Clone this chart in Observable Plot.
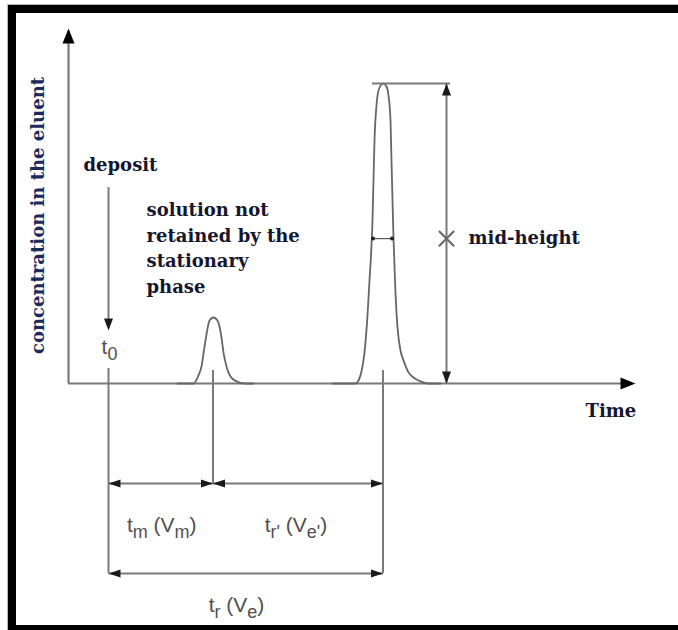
<!DOCTYPE html>
<html><head><meta charset="utf-8">
<script src="https://cdn.jsdelivr.net/npm/d3@7"></script>
<script src="https://cdn.jsdelivr.net/npm/@observablehq/plot@0.6"></script>
<style>
html,body{margin:0;padding:0;background:#fff;overflow:hidden;}
#chart{position:relative;width:678px;height:630px;overflow:hidden}
#chart svg{display:block}
#chart::after{content:"";position:absolute;left:8px;top:5px;right:-30px;bottom:-3px;border:8px solid #000;border-right:none;pointer-events:none;box-shadow:0 0 0 1px #bbb;}
</style>
</head><body><div id="chart"></div>
<script>
// ---- data (time in arbitrary units, concentration in % of main peak) ----
const smallPeakT = [6.9, 8.5, 9.0, 9.3, 9.5, 9.7, 9.9, 10.1, 10.5, 10.9, 11.1, 11.3, 11.5, 11.8, 12.2, 12.8, 13.6, 14.5];
const smallPeakC = [0, 0, 2.7, 5.7, 10, 14.3, 18.3, 21, 22, 21, 19, 15.3, 10.3, 5.7, 2.3, 0.7, 0, 0];
const bigPeakT = [22.4, 24.7, 25.0, 25.3, 25.6, 25.9, 26.1, 26.3, 26.4, 26.5, 26.6, 26.8, 27.0, 27.3, 27.5, 27.8, 28.0, 28.2, 28.3, 28.4, 28.5, 28.7, 28.9, 29.2, 29.5, 30.0, 30.5, 31.2, 32.0, 33.2];
const bigPeakC = [0, 0, 1, 4, 10.3, 22.7, 34.3, 46, 54.3, 67.7, 81, 92.7, 97.7, 99.7, 100, 99, 96, 87.7, 74.3, 61, 48.3, 30, 18.7, 11, 7.7, 3.7, 2, 0.7, 0, 0];
const eventNames = ["t0", "tm", "tr"];
const eventTimes = [0, 10.45, 27.45];
const peakMax = 100;
const midLevel = 48.3;
const halfWidthEnds = [26.45, 28.35];
const intervalLabels = ["t_{m} (V_{m})", "t_{r'} (V_{e'})", "t_{r} (V_{e})"];
const startLabel = "t_{0}";
const noteLabels = ["deposit", "solution not\nretained by the\nstationary\nphase", "mid-height"];
const xTitle = "Time";
const yTitle = "concentration in the eluent";

// ---- layout constants ----
const axisT0 = -4, axisTEnd = 52.7, axisCEnd = 118.3;
const row1 = -33.3, row2 = -63.3;
const measureT = 33.8;
const G = "#7a7a7a", HEAD = "#1a1a1a", INK = "#16162e";
const serif = "DejaVu Serif", sans = "Liberation Sans, Arial, sans-serif";

const [t0, tm, tr] = eventTimes;
function head(len, wid) {
  return {draw(ctx) { ctx.moveTo(0, 0); ctx.lineTo(-wid / 2, len); ctx.lineTo(wid / 2, len); ctx.closePath(); }};
}
const bigHead = head(15, 12), smallHead = head(12, 8), midHead = head(12, 9);
const toRows = (T, C) => T.map((t, i) => ({t, c: C[i]}));

const segments = [
  {x1: t0, x2: tm, y: row1},
  {x1: tm, x2: tr, y: row1},
  {x1: t0, x2: tr, y: row2}
];
const segHeads = segments.flatMap(s => [{t: s.x1, c: s.y, r: -90}, {t: s.x2, c: s.y, r: 90}]);
const guides = [
  {t: t0, y1: 5, y2: row2},
  {t: tm, y1: 4.3, y2: row1},
  {t: tr, y1: 4.3, y2: row2}
];
const textStyle = {fontFamily: serif, fontWeight: "bold", fontSize: 18, fill: INK};
const subStyle = {fontFamily: sans, fontSize: 21, fill: "#505050"};

const svg = Plot.plot({
  width: 678, height: 630, margin: 0,
  x: {domain: [-10.8, 57.0], axis: null},
  y: {domain: [-82.333, 127.667], axis: null},
  style: {background: "#fff"},
  marks: [
    // axes
    Plot.ruleY([0], {x1: axisT0, x2: axisTEnd - 1, stroke: G, strokeWidth: 2.2}),
    Plot.ruleX([axisT0], {y1: 0, y2: axisCEnd - 1, stroke: G, strokeWidth: 2.2}),
    Plot.dot([{t: axisTEnd, c: 0, r: 90}, {t: axisT0, c: axisCEnd, r: 0}], {x: "t", y: "c", rotate: "r", symbol: bigHead, r: 5, fill: "#000", stroke: "none"}),
    // peaks
    Plot.line(toRows(smallPeakT, smallPeakC), {x: "t", y: "c", curve: "monotone-x", stroke: "#666", strokeWidth: 1.8}),
    Plot.line(toRows(bigPeakT, bigPeakC), {x: "t", y: "c", curve: "monotone-x", stroke: "#666", strokeWidth: 1.8}),
    // guides below the axis
    Plot.ruleX(guides, {x: "t", y1: "y1", y2: "y2", stroke: G, strokeWidth: 2}),
    // deposit arrow
    Plot.ruleX([t0], {y1: 65.3, y2: 19, stroke: G, strokeWidth: 2}),
    Plot.dot([{t: t0, c: 17.7}], {x: "t", y: "c", rotate: 180, symbol: midHead, r: 5, fill: HEAD, stroke: "none"}),
    // interval arrows
    Plot.link(segments, {x1: "x1", x2: "x2", y1: "y", y2: "y", stroke: G, strokeWidth: 2}),
    Plot.dot(segHeads, {x: "t", y: "c", rotate: "r", symbol: smallHead, r: 5, fill: HEAD, stroke: "none"}),
    // peak height measure
    Plot.ruleY([peakMax], {x1: 26.4, x2: measureT + 0.4, stroke: G, strokeWidth: 2}),
    Plot.ruleX([measureT], {y1: 0, y2: peakMax, stroke: G, strokeWidth: 2}),
    Plot.dot([{t: measureT, c: peakMax, r: 0}, {t: measureT, c: 0, r: 180}], {x: "t", y: "c", rotate: "r", symbol: midHead, r: 5, fill: HEAD, stroke: "none"}),
    Plot.dot([{t: measureT, c: midLevel}], {x: "t", y: "c", symbol: "times", r: 7, stroke: "#666", strokeWidth: 2}),
    // width at mid-height
    Plot.link([{x1: halfWidthEnds[0], x2: halfWidthEnds[1], y: midLevel}], {x1: "x1", x2: "x2", y1: "y", y2: "y", stroke: "#555", strokeWidth: 1.2}),
    Plot.dot(halfWidthEnds, {x: d => d, y: midLevel, r: 2, fill: "#222", stroke: "none"}),
    // texts
    Plot.text([noteLabels[0]], {x: -2.5, y: 72.6, textAnchor: "start", ...textStyle}),
    Plot.text([noteLabels[1]], {x: 3.8, y: 61.9, textAnchor: "start", lineAnchor: "top", lineHeight: 1.42, ...textStyle}),
    Plot.text([noteLabels[2]], {x: 36.0, y: midLevel, textAnchor: "start", ...textStyle}),
    Plot.text([xTitle], {x: 47.7, y: -9.3, textAnchor: "start", ...textStyle}),
    Plot.text([yTitle], {x: -7.0, y: 56, rotate: -90, ...textStyle, fill: "#1c2a5a"}),
    Plot.text([startLabel], {x: 0.1, y: 12, ...subStyle}),
    Plot.text(intervalLabels, {x: [(t0 + tm) / 2 + 0.1, (tm + tr) / 2 - 0.2, 12.8], y: [row1 - 14, row1 - 14, row2 - 10.7], ...subStyle})
  ]
});

// turn _{..} into real subscripts
svg.querySelectorAll("text").forEach(el => {
  const s = el.textContent;
  if (!s.includes("_{")) return;
  while (el.firstChild) el.removeChild(el.firstChild);
  const re = /_\{([^}]*)\}/g;
  let last = 0, m, shifted = false;
  const ns = "http://www.w3.org/2000/svg";
  const add = (txt, sub) => {
    if (!txt) return;
    const ts = document.createElementNS(ns, "tspan");
    ts.textContent = txt;
    if (sub) { ts.setAttribute("dy", "6"); ts.setAttribute("font-size", "18"); shifted = true; }
    else if (shifted) { ts.setAttribute("dy", "-6"); shifted = false; }
    el.appendChild(ts);
  };
  while ((m = re.exec(s))) { add(s.slice(last, m.index), false); add(m[1], true); last = re.lastIndex; }
  add(s.slice(last), false);
});
document.getElementById("chart").appendChild(svg);
</script>
</body></html>
